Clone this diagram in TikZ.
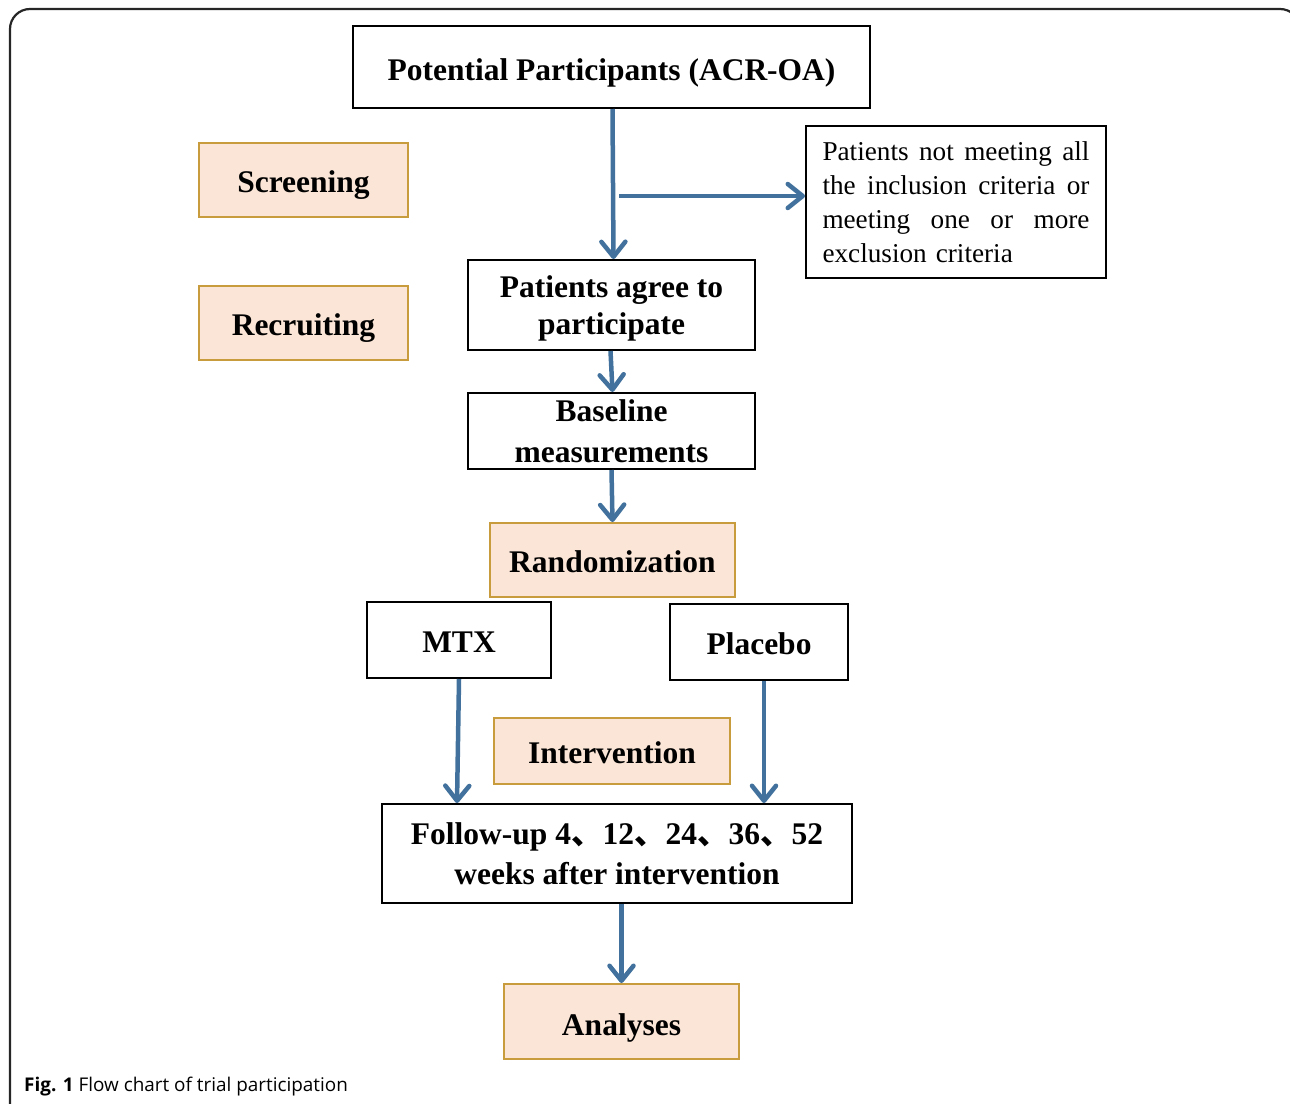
\documentclass[tikz,border=0pt]{standalone}
\usepackage{fontspec}
\setmainfont{Liberation Serif}
\newfontfamily\capfont{Open Sans}
\newfontfamily\cjk{Noto Sans CJK SC}
\usetikzlibrary{arrows.meta}
\definecolor{arrowblue}{HTML}{41719C}
\definecolor{stagefill}{HTML}{FBE5D6}
\definecolor{stageborder}{HTML}{C89B3C}
\newcommand{\dun}{{\cjk 、}}
\newcommand{\dn}[1]{\rule{0pt}{\dimexpr 22pt+#1pt+#1pt\relax}}
\newcommand{\jl}[1]{\leavevmode\hbox to 267pt{#1}}
\begin{document}
\begin{tikzpicture}[x=1pt,y=-1pt,
  box/.style={draw=black, line width=2pt, align=center, inner sep=0pt,
    font=\bfseries\fontsize{31.5}{38}\selectfont},
  stage/.style={draw=stageborder, fill=stagefill, line width=2pt, align=center, inner sep=0pt,
    font=\bfseries\fontsize{31.5}{38}\selectfont},
  arr/.style={draw=arrowblue, line width=4.5pt,
    -{Straight Barb[length=15pt,width=24pt,line width=4.5pt,round]}}]
\useasboundingbox (0,0) rectangle (1290,1103);
% frame
\draw[line width=2.2pt, rounded corners=20pt, black!85] (10,9) rectangle (1300,1130);
% boxes
\node[box, minimum width=517, minimum height=82] (pot) at (611.5,67) {\dn{6}Potential Participants (ACR-OA)};
\node[stage, minimum width=209, minimum height=74] (scr) at (303.5,180) {\dn{5}Screening};
\node[stage, minimum width=209, minimum height=74] (rec) at (303.5,323) {\dn{5}Recruiting};
\node[draw=black, line width=2pt, minimum width=300, minimum height=152, inner sep=0pt,
  text width=267, align=left, font=\fontsize{27.2}{34}\selectfont] (nm) at (956,202)
  {\jl{Patients\hfill not\hfill meeting\hfill all}\\\jl{the\hfill inclusion\hfill criteria\hfill or}\\\jl{meeting\hfill one\hfill or\hfill more}\\exclusion criteria};
\node[box, minimum width=287, minimum height=90, font=\bfseries\fontsize{31.5}{37}\selectfont] (pa) at (611.5,305) {\dn{3}Patients agree to\\participate};
\node[box, minimum width=287, minimum height=76, font=\bfseries\fontsize{31.5}{41}\selectfont] (bl) at (611.5,431) {Baseline\\measurements};
\node[stage, minimum width=245, minimum height=74] (rand) at (612.5,560) {\dn{2}Randomization};
\node[box, minimum width=184, minimum height=76] (mtx) at (459,640) {\dn{1}MTX};
\node[box, minimum width=178, minimum height=76] (plc) at (759,642) {\dn{2}Placebo};
\node[stage, minimum width=236, minimum height=66] (int) at (612,751) {\dn{2}Intervention};
\node[box, minimum width=470, minimum height=99, font=\bfseries\fontsize{31.5}{40}\selectfont] (fu) at (617,853.5)
  {Follow-up 4\dun 12\dun 24\dun 36\dun 52\\weeks after intervention};
\node[stage, minimum width=235, minimum height=75] (an) at (621.5,1021.5) {\dn{6}Analyses};
% caption
\node[anchor=west, inner sep=0pt, font=\capfont\fontsize{18.9}{22}\selectfont] (cap) at (24,1087)
  {\textbf{Fig. 1} Flow chart of trial participation};
% connectors
\coordinate (br) at (619,196);
\draw[arr] ([xshift=1pt]pot.south) -- ([xshift=2pt]pa.north);
\draw[arr] (br) -- (br -| nm.west);
\draw[arr] ([xshift=-1pt]pa.south) -- ([xshift=1pt]bl.north);
\draw[arr] (bl.south) -- (rand.north);
\draw[arr] (mtx.south) -- ([xshift=-2pt]mtx.south |- fu.north);
\draw[arr] ([xshift=5pt]plc.south) -- ([xshift=5pt]plc.south |- fu.north);
\draw[arr] (fu.south -| an.north) -- (an.north);
\end{tikzpicture}
\end{document}
